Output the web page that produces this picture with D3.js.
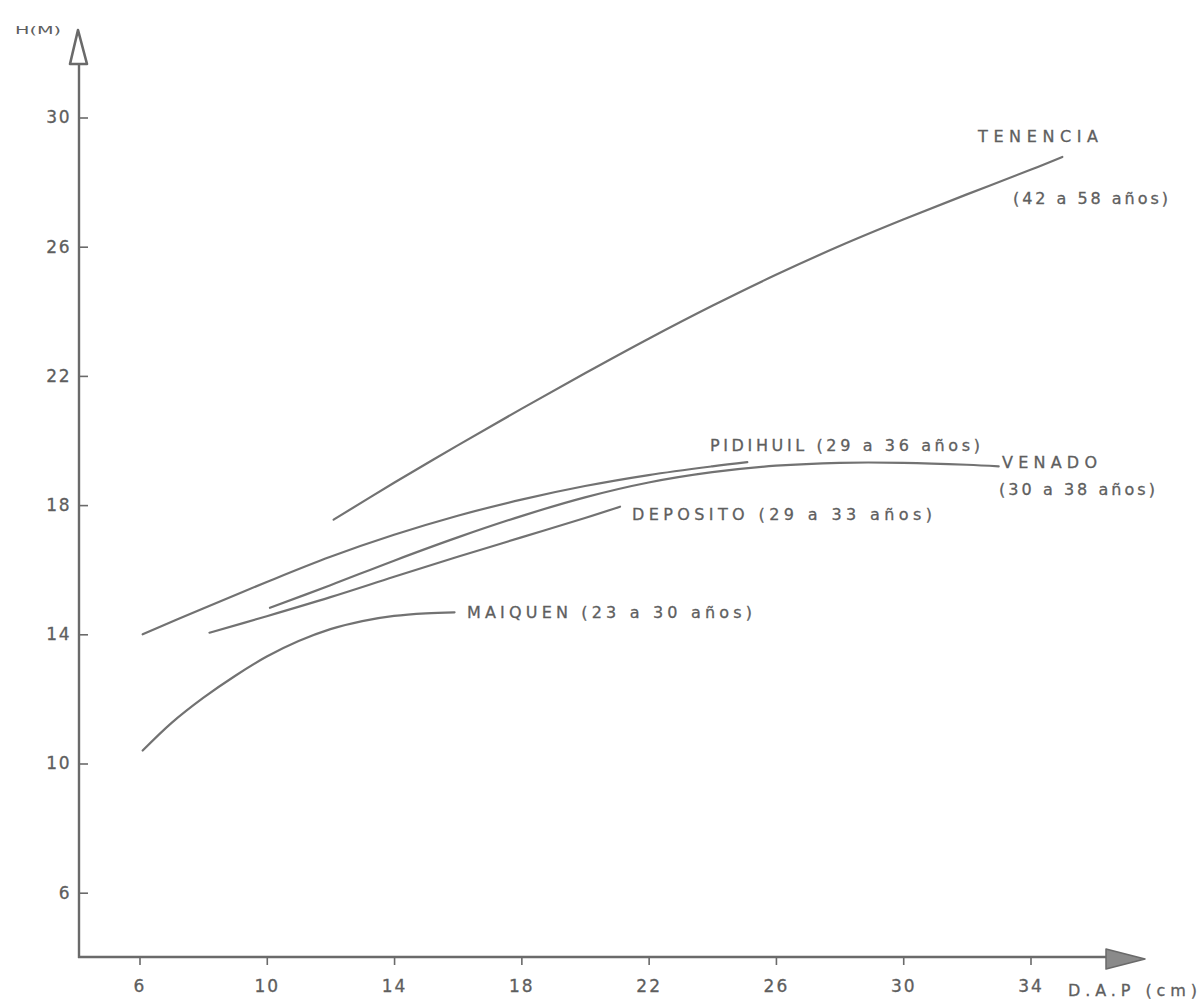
<!DOCTYPE html>
<html>
<head>
<meta charset="utf-8">
<script src="https://cdn.jsdelivr.net/npm/d3@7/dist/d3.min.js"></script>
<style>
  html, body { margin: 0; padding: 0; background: #fff; }
  svg { display: block; }
  text { font-family: "DejaVu Sans", "Liberation Sans", sans-serif; fill: #5e5e5e; }
</style>
</head>
<body>
<svg id="chart" width="1203" height="1002"></svg>
<script>
// Height (m) versus diameter at breast height (cm) for five stands.
const xTicks = [6, 10, 14, 18, 22, 26, 30, 34];
const yTicks = [6, 10, 14, 18, 22, 26, 30];

const tenenciaDap = [12.1, 14, 16, 18, 20, 22, 24, 26, 28, 30, 32, 34, 35];
const tenenciaH   = [17.55, 18.69, 19.85, 20.98, 22.08, 23.15, 24.17, 25.13, 26.02, 26.84, 27.62, 28.38, 28.78];

const pidihuilDap = [6.1, 8, 10, 12, 14, 16, 18, 20, 22, 24, 25.1];
const pidihuilH   = [14.0, 14.8, 15.62, 16.4, 17.08, 17.67, 18.17, 18.59, 18.93, 19.2, 19.33];

const venadoDap = [10.1, 12, 14, 16, 18, 20, 22, 24, 26, 28, 30, 32, 33];
const venadoH   = [14.82, 15.52, 16.28, 17.0, 17.66, 18.24, 18.7, 19.02, 19.22, 19.31, 19.31, 19.25, 19.2];

const depositoDap = [8.2, 10, 12, 14, 16, 18, 20, 21.1];
const depositoH   = [14.05, 14.56, 15.15, 15.78, 16.4, 17.0, 17.6, 17.95];

const maiquenDap = [6.1, 7, 8, 9, 10, 11, 12, 13, 14, 15, 15.9];
const maiquenH   = [10.4, 11.25, 12.03, 12.71, 13.31, 13.79, 14.16, 14.41, 14.57, 14.65, 14.68];

const seriesNames = ["TENENCIA", "PIDIHUIL", "VENADO", "DEPOSITO", "MAIQUEN"];
const seriesDap = [tenenciaDap, pidihuilDap, venadoDap, depositoDap, maiquenDap];
const seriesH   = [tenenciaH, pidihuilH, venadoH, depositoH, maiquenH];

const labelTexts = ["TENENCIA", "(42 a 58 años)", "PIDIHUIL (29 a 36 años)", "VENADO",
                    "(30 a 38 años)", "DEPOSITO (29 a 33 años)", "MAIQUEN (23 a 30 años)"];

const xTitle = "D.A.P (cm)";
const yTitle = "H(M)";

// ---- layout ----
const svg = d3.select("#chart");
const ink = "#6a6a6a";
const curveInk = "#727272";

const x = d3.scaleLinear().domain([6, 34]).range([139.5, 1030.5]);
const y = d3.scaleLinear().domain([6, 30]).range([892.7, 117.5]);

const originX = 79, originY = 957;

// axes
const xAxis = d3.axisBottom(x).tickValues(xTicks).tickSize(8).tickPadding(15).tickFormat(d3.format("d"));
const yAxis = d3.axisRight(y).tickValues(yTicks).tickSize(9).tickFormat(d3.format("d"));

const gx = svg.append("g").attr("transform", `translate(0,${originY})`).call(xAxis);
gx.select(".domain").remove();
gx.selectAll(".tick line").attr("stroke", ink).attr("stroke-width", 1.6);
gx.selectAll(".tick text")
  .attr("font-size", 17).attr("letter-spacing", 2).attr("fill", "#5e5e5e")
  .attr("stroke", "#5e5e5e").attr("stroke-width", 0.3)
  .attr("dy", "0.72em");

const gy = svg.append("g").attr("transform", `translate(${originX},0)`).call(yAxis);
gy.select(".domain").remove();
gy.selectAll(".tick line").attr("stroke", ink).attr("stroke-width", 1.6);
gy.selectAll(".tick text")
  .attr("x", -8).attr("text-anchor", "end")
  .attr("font-size", 17).attr("letter-spacing", 1.5).attr("fill", "#5e5e5e")
  .attr("stroke", "#5e5e5e").attr("stroke-width", 0.3);

// axis lines
svg.append("line").attr("x1", originX).attr("y1", 63).attr("x2", originX).attr("y2", originY + 1)
  .attr("stroke", ink).attr("stroke-width", 2.4);
svg.append("line").attr("x1", originX - 1).attr("y1", originY).attr("x2", 1108).attr("y2", originY)
  .attr("stroke", ink).attr("stroke-width", 2.4);

// arrow heads
svg.append("path")
  .attr("d", "M78,30 L70,64 L87,64 Z")
  .attr("fill", "#fff").attr("stroke", ink).attr("stroke-width", 2.6).attr("stroke-linejoin", "round");
svg.append("path")
  .attr("d", `M1106,${originY - 8} L1145,${originY + 2} L1106,${originY + 12} Z`)
  .attr("fill", "#8a8a8a").attr("stroke", ink).attr("stroke-width", 1.5).attr("stroke-linejoin", "round");

// axis titles
svg.append("text").attr("x", 15).attr("y", 30).attr("dominant-baseline", "central")
  .attr("font-size", 11).attr("textLength", 46).attr("lengthAdjust", "spacingAndGlyphs").text(yTitle);
svg.append("text").attr("x", 1068).attr("y", 990).attr("dominant-baseline", "central")
  .attr("font-size", 16).attr("stroke", "#5e5e5e").attr("stroke-width", 0.3)
  .attr("textLength", 129).attr("lengthAdjust", "spacing").text(xTitle);

// curves
const line = d3.line()
  .x(d => x(d[0]))
  .y(d => y(d[1]))
  .curve(d3.curveCatmullRom.alpha(0.5));

seriesNames.forEach((name, i) => {
  const pts = seriesDap[i].map((v, j) => [v, seriesH[i][j]]);
  svg.append("path")
    .datum(pts)
    .attr("class", "curve " + name.toLowerCase())
    .attr("fill", "none")
    .attr("stroke", curveInk)
    .attr("stroke-width", 2.2)
    .attr("stroke-linecap", "round")
    .attr("d", line);
});

// curve labels, anchored in data space (left edge, vertical centre) with a fitted width
const labelPlacement = [
  { dap: x.invert(978),  h: y.invert(136), w: 120 },
  { dap: x.invert(1013), h: y.invert(198), w: 155 },
  { dap: x.invert(710),  h: y.invert(445), w: 270 },
  { dap: x.invert(1002), h: y.invert(462), w: 95 },
  { dap: x.invert(999),  h: y.invert(489), w: 156 },
  { dap: x.invert(632),  h: y.invert(514), w: 300 },
  { dap: x.invert(467),  h: y.invert(612), w: 285 }
];

labelTexts.forEach((t, i) => {
  const p = labelPlacement[i];
  svg.append("text")
    .attr("x", x(p.dap))
    .attr("y", y(p.h))
    .attr("dominant-baseline", "central")
    .attr("font-size", 16)
    .attr("stroke", "#5e5e5e")
    .attr("stroke-width", 0.3)
    .attr("textLength", p.w)
    .attr("lengthAdjust", "spacing")
    .text(t);
});
</script>
</body>
</html>
